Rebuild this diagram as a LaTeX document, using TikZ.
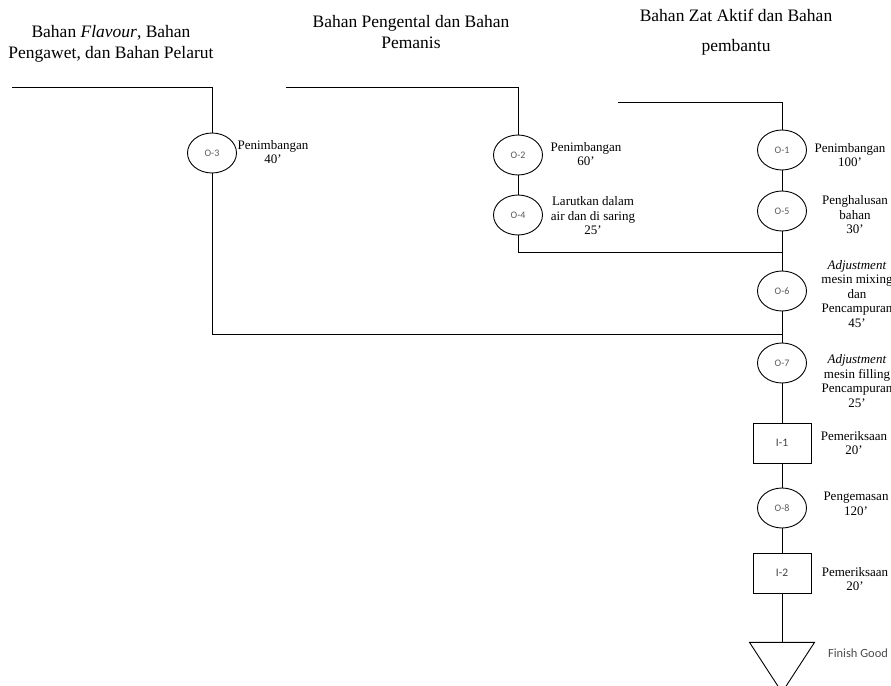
\documentclass[tikz,border=0pt]{standalone}
\usepackage{fontspec}
\setmainfont{Liberation Serif}
\newfontfamily\tagfont{Carlito}
\usetikzlibrary{shapes.geometric}

\begin{document}
\begin{tikzpicture}[
  x=1pt, y=-1pt, line width=0.9pt,
  op/.style    = {draw, ellipse, minimum width=49pt, minimum height=40pt,
                  inner sep=0pt, font=\tagfont\fontsize{10}{11}\selectfont, text=black!65},
  insp/.style  = {draw, rectangle, minimum width=58pt, minimum height=40pt,
                  inner sep=0pt, font=\tagfont\fontsize{11.5}{12}\selectfont, text=black!75},
  store/.style = {draw, isosceles triangle, isosceles triangle stretches,
                  shape border rotate=270, minimum width=65pt, minimum height=50pt,
                  inner sep=0pt},
  title/.style = {align=center, font=\fontsize{17.5}{20.5}\selectfont, inner sep=0pt},
  lbl/.style   = {align=center, font=\fontsize{13}{14.5}\selectfont, inner sep=0pt},
]
\useasboundingbox (0,0) rectangle (891,685);

% --- titles ----------------------------------------------------------------
\node[title] (t1) at (111,44) {Bahan \textit{Flavour}, Bahan\\Pengawet, dan Bahan Pelarut};
\node[title] (t2) at (411,32) {Bahan Pengental dan Bahan\\Pemanis};
\node[title] (t3) at (736,32) {Bahan Zat Aktif dan Bahan\\[10pt]pembantu};

% --- operations ------------------------------------------------------------
\node[op]   (o3) at (212,153) {O-3};
\node[op]   (o2) at (518,155) {O-2};
\node[op]   (o4) at (518,215) {O-4};
\node[op]   (o1) at (782,150) {O-1};
\node[op]   (o5) at (782,211) {O-5};
\node[op]   (o6) at (782,291) {O-6};
\node[op]   (o7) at (782,363) {O-7};
\node[insp] (i1) at (782,443) {I-1};
\node[op]   (o8) at (782,508) {O-8};
\node[insp] (i2) at (782,573) {I-2};
\node[store] (fg) at (782,660) {};

% --- labels ----------------------------------------------------------------
\node[lbl] (l3) at (273,152) {Penimbangan\\40'};
\node[lbl] (l2) at (586,154) {Penimbangan\\60'};
\node[lbl] (l4) at (593,216) {Larutkan dalam\\air dan di saring\\25'};
\node[lbl] (l1) at (850,155) {Penimbangan\\100'};
\node[lbl] (l5) at (855,215) {Penghalusan\\bahan\\30'};
\node[lbl] (l6) at (857,294) {\textit{Adjustment}\\mesin mixing\\dan\\Pencampuran\\45'};
\node[lbl] (l7) at (857,381) {\textit{Adjustment}\\mesin filling\\Pencampuran\\25'};
\node[lbl] (l8) at (854,443) {Pemeriksaan\\20'};
\node[lbl] (l9) at (856,504) {Pengemasan\\120'};
\node[lbl] (l10) at (855,579) {Pemeriksaan\\20'};
\node[font=\tagfont\fontsize{12.5}{14}\selectfont, text=black!70, inner sep=0pt]
     (lfg) at (858,653) {Finish Good};

% --- feed lines ------------------------------------------------------------
\coordinate (s1) at (12,87);
\coordinate (k1) at (212,87);
\coordinate (j1) at (212,334);
\coordinate (m1) at (782,334);
\draw (s1) -- (k1) -- (o3.north);
\draw (o3) -- (j1) -- (m1);

\coordinate (s2) at (286,87);
\coordinate (k2) at (518,87);
\coordinate (j2) at (518,252);
\coordinate (m2) at (782,252);
\draw (s2) -- (k2) -- (o2.north);
\draw (o2) -- (o4);
\draw (o4) -- (j2) -- (m2);

\coordinate (s3) at (618,102);
\coordinate (k3) at (782,102);
\draw (s3) -- (k3) -- (o1.north);

% --- main line -------------------------------------------------------------
\draw (o1) -- (o5) -- (o6) -- (o7) -- (i1) -- (o8) -- (i2) -- (fg.north);

\end{tikzpicture}
\end{document}
